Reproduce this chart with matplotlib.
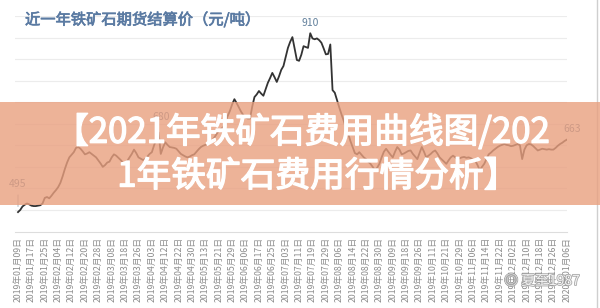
import numpy as np
import matplotlib
matplotlib.use('Agg')
import matplotlib.pyplot as plt
from matplotlib.patches import Rectangle
from matplotlib.lines import Line2D
import matplotlib.patheffects as pe

plt.rcParams['font.family'] = ['Noto Sans CJK SC', 'DejaVu Sans']

# settlement price, one value per trading day (2019-01-09 .. 2020-01-06)
price = [495, 500, 508, 512, 515, 513, 510, 509, 509, 510,
         511, 515, 528, 530, 527, 533, 540, 546, 553, 563,
         578, 595, 610, 622, 628, 634, 644, 646, 642, 636,
         629, 631, 634, 630, 626, 622, 615, 608, 600, 604,
         610, 612, 622, 629, 626, 621, 616, 610, 607, 614,
         622, 630, 640, 632, 622, 619, 616, 618, 624, 630,
         634, 650, 664, 680, 630, 645, 657, 651, 646, 645,
         644, 642, 636, 630, 627, 624, 622, 624, 627, 629,
         635, 641, 646, 649, 651, 653, 656, 661, 668, 676,
         684, 688, 692, 705, 718, 730, 745, 757, 748, 738,
         728, 720, 715, 712, 712, 740, 762, 768, 776, 770,
         765, 780, 795, 806, 818, 808, 797, 810, 825, 834,
         855, 876, 890, 901, 875, 848, 846, 860, 880, 878,
         876, 910, 898, 896, 898, 894, 888, 875, 861, 862,
         884, 778, 772, 755, 738, 722, 707, 690, 677, 660,
         646, 632, 629, 634, 628, 622, 618, 612, 607, 600,
         592, 598, 607, 622, 635, 642, 635, 628, 622, 635,
         646, 640, 629, 631, 634, 637, 638, 630, 624, 618,
         632, 646, 635, 622, 626, 630, 635, 638, 631, 622,
         617, 612, 607, 615, 622, 626, 622, 618, 620, 622,
         623, 621, 622, 620, 617, 614, 604, 592, 600, 607,
         618, 629, 633, 638, 642, 646, 649, 651, 653, 651,
         650, 648, 649, 651, 653, 650, 618, 640, 650, 653,
         652, 648, 643, 638, 640, 642, 641, 640, 641, 640,
         640, 644, 649, 653, 656, 660, 663]

date_labels = ['2019年01月09日', '2019年01月17日', '2019年01月25日', '2019年02月04日',
               '2019年02月12日', '2019年02月20日', '2019年02月28日', '2019年03月08日',
               '2019年03月18日', '2019年03月26日', '2019年04月03日', '2019年04月12日',
               '2019年04月22日', '2019年04月30日', '2019年05月13日', '2019年05月21日',
               '2019年05月29日', '2019年06月06日', '2019年06月17日', '2019年06月25日',
               '2019年07月03日', '2019年07月11日', '2019年07月19日', '2019年07月29日',
               '2019年08月06日', '2019年08月14日', '2019年08月22日', '2019年08月30日',
               '2019年09月09日', '2019年09月18日', '2019年09月26日', '2019年10月11日',
               '2019年10月21日', '2019年10月29日', '2019年11月06日', '2019年11月14日',
               '2019年11月22日', '2019年12月02日', '2019年12月10日', '2019年12月18日',
               '2019年12月26日', '2020年01月06日']

# points that carry a value label: (index, text offset in points)
marked = {0: (0, 20), 63: (2, 11), 131: (0, 7.5), 246: (4, 8)}

x = np.arange(len(price))

fig = plt.figure(figsize=(6, 3.08), dpi=100)
ax = fig.add_axes([15/600, 76.5/308, 552/600, 215.5/308])

ax.plot(x, price, color='#333333', lw=1.3, solid_joinstyle='round', zorder=3)
ax.set_xlim(-1.35, 246.1)
ax.set_ylim(450, 950)
ax.set_yticks(np.arange(500, 951, 50))
ax.yaxis.grid(True, color='#ececec', lw=0.8)
ax.tick_params(axis='y', length=0, labelleft=False)
ax.set_xticks(x[::6])
ax.set_xticklabels(date_labels, rotation=90, fontsize=6.3, color='#8c8c8c')
ax.tick_params(axis='x', length=0, pad=4)
for s in ['top', 'right', 'left']:
    ax.spines[s].set_visible(False)
ax.spines['bottom'].set_color('#dddddd')
ax.spines['bottom'].set_linewidth(0.8)

for i, (dx, dy) in marked.items():
    props = dict(arrowstyle='-', color='#9aa8b5', lw=0.6, shrinkA=2, shrinkB=4) if i == 0 else None
    ax.annotate(str(price[i]), (x[i], price[i]), xytext=(dx, dy), textcoords='offset points',
                ha='center', va='center', fontsize=7.5, color='#62809c',
                arrowprops=props, zorder=4)

fig.text(25/600, 1 - 20/308, '近一年铁矿石期货结算价（元/吨）', fontsize=11, color='#5a7aa2',
         ha='left', va='center',
         path_effects=[pe.withStroke(linewidth=0.5, foreground='#5a7aa2')])

# translucent banner over the chart
fig.add_artist(Rectangle((0, 1 - 205/308), 1, 103/308, transform=fig.transFigure,
                         facecolor='#e9a07f', alpha=0.8, edgecolor='none', zorder=5))
bold = [pe.withStroke(linewidth=1.0, foreground='white')]
fig.text(302/600, 1 - 133/308, '【2021年铁矿石费用曲线图/202', fontsize=25,
         color='white', ha='center', va='center', zorder=6, path_effects=bold)
fig.text(318/600, 1 - 177/308, '1年铁矿石费用行情分析】', fontsize=25,
         color='white', ha='center', va='center', zorder=6, path_effects=bold)

fig.add_artist(Line2D([597/600, 597/600], [0, 1], transform=fig.transFigure,
                      color='#cfcfcf', lw=1.0))

fig.text(542/600, 1 - 281/308, '◎ 夏至1987', fontsize=10, color='white', alpha=0.85,
         ha='center', va='center', zorder=7,
         path_effects=[pe.withStroke(linewidth=1.2, foreground='#9a9a9a')])

fig.savefig('out.png', dpi=100)
